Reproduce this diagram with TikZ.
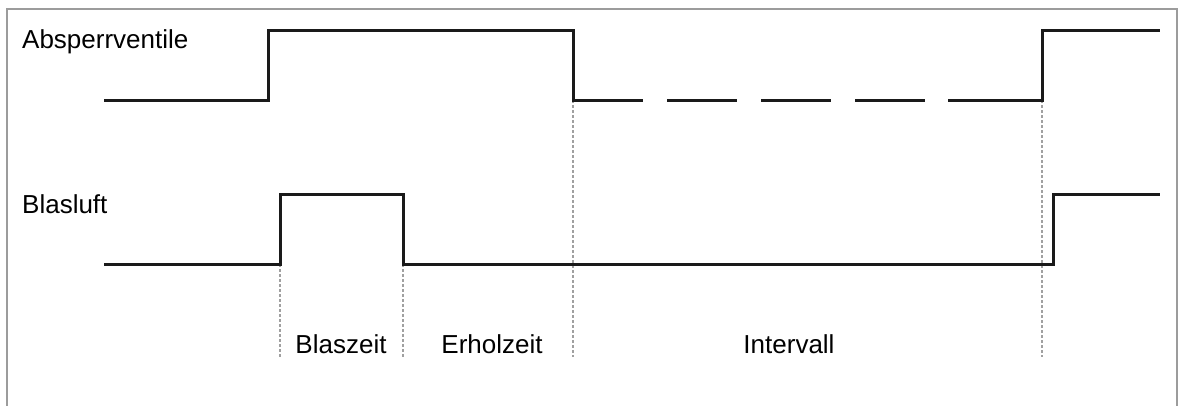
\documentclass[tikz,border=0pt]{standalone}
\usepackage{fontspec}
\setmainfont{Liberation Sans}
\definecolor{framegray}{HTML}{9C9C9C}
\definecolor{signal}{HTML}{1A1A1A}
\definecolor{guide}{HTML}{A0A0A0}
\tikzset{
  sigline/.style={draw=signal, line width=3pt, line join=miter},
  guideline/.style={draw=guide, line width=1.6pt, dash pattern=on 3pt off 2pt},
  lbl/.style={inner sep=0pt, font=\fontsize{26}{30}\selectfont},
}
\begin{document}
\begin{tikzpicture}[x=1pt, y=-1pt]
  \useasboundingbox (0,0) rectangle (1183,405);
  % frame (open at the bottom)
  \draw[framegray, line width=2.8pt] (7,406) -- (7,9) -- (1177,9) -- (1177,406);

  % time markers
  \draw[guideline] (280,264) -- (280,357);
  \draw[guideline] (403,264) -- (403,357);
  \draw[guideline] (573,100) -- (573,357);
  \draw[guideline] (1042,100) -- (1042,357);

  % shut-off valves signal
  \draw[sigline] (104,100) -- (268,100) -- (268,30) -- (573,30) -- (573,100) -- (643,100);
  \draw[sigline] (667,100) -- (737,100);
  \draw[sigline] (761,100) -- (831,100);
  \draw[sigline] (855,100) -- (925,100);
  \draw[sigline] (948,100) -- (1042,100) -- (1042,30) -- (1160,30);

  % blowing air signal
  \draw[sigline] (104,264) -- (280,264) -- (280,194) -- (403,194) -- (403,264)
                 -- (1053,264) -- (1053,194) -- (1160,194);

  % labels
  \node[lbl, anchor=base west] (valves) at (22,48) {Absperrventile};
  \node[lbl, anchor=base west] (air) at (22,213) {Blasluft};
  \node[lbl, anchor=base] (blow) at (341,353) {Blaszeit};
  \node[lbl, anchor=base] (rec) at (492,353) {Erholzeit};
  \node[lbl, anchor=base] (int) at (789,353) {Intervall};
\end{tikzpicture}
\end{document}
